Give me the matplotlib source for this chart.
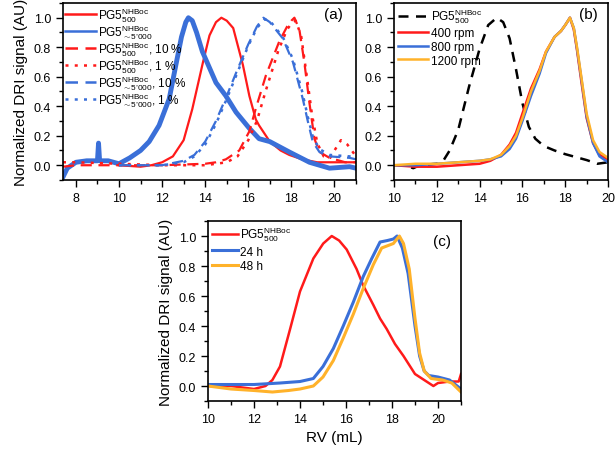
import numpy as np
import matplotlib.pyplot as plt

plt.rcParams['font.family'] = ['Liberation Sans', 'DejaVu Sans']
plt.rcParams['mathtext.fontset'] = 'custom'
plt.rcParams['mathtext.rm'] = 'Liberation Sans'
plt.rcParams['mathtext.it'] = 'Liberation Sans:italic'
plt.rcParams['mathtext.bf'] = 'Liberation Sans:bold'

RED = '#ff1a1a'
BLUE = '#3a6fd8'
ORANGE = '#ffb22a'

# ---- panel (a): concentration series ----
a_red_x = [10.0, 11.0, 11.5, 12.0, 12.5, 13.0, 13.4, 13.9, 14.2, 14.5, 14.75, 15.0, 15.3, 15.75, 16.05, 16.35, 16.5, 17.0, 17.5, 17.9, 18.5, 19.2, 20.0, 21.0]
a_red_y = [0.0, -0.01, 0.0, 0.02, 0.06, 0.17, 0.38, 0.70, 0.88, 0.97, 1.0, 0.98, 0.93, 0.68, 0.47, 0.31, 0.27, 0.16, 0.10, 0.07, 0.04, 0.02, 0.02, 0.02]

a_blue_x = [7.4, 7.6, 8.0, 8.5, 9.0, 9.05, 9.1, 9.5, 10.0, 10.5, 11.0, 11.4, 11.86, 12.33, 12.64, 12.9, 13.1, 13.22, 13.4, 13.6, 13.87, 14.5, 14.96, 15.43, 16.05, 16.5, 17.0, 17.9, 18.84, 19.77, 20.7, 21.0]
a_blue_y = [-0.08, -0.02, 0.02, 0.03, 0.03, 0.15, 0.03, 0.03, 0.01, 0.05, 0.10, 0.16, 0.27, 0.45, 0.68, 0.87, 0.97, 1.0, 0.98, 0.9, 0.77, 0.56, 0.47, 0.36, 0.25, 0.18, 0.16, 0.09, 0.02, -0.02, -0.01, -0.02]

a_red10_x = [7.4, 8.0, 10.0, 12.0, 14.0, 14.5, 14.96, 15.58, 16.05, 16.36, 16.82, 17.44, 17.8, 18.0, 18.14, 18.37, 18.6, 18.84, 19.07, 19.3, 19.77, 20.5, 21.0]
a_red10_y = [-0.01, 0.0, 0.0, 0.0, 0.01, 0.02, 0.04, 0.10, 0.23, 0.39, 0.61, 0.84, 0.94, 0.98, 1.0, 0.92, 0.70, 0.42, 0.18, 0.09, 0.05, 0.02, 0.02]

a_red1_x = [7.4, 8.0, 10.0, 12.0, 13.0, 14.0, 15.0, 15.5, 16.0, 16.4, 16.8, 17.4, 17.8, 18.05, 18.2, 18.45, 18.7, 18.95, 19.2, 19.5, 19.8, 20.0, 20.3, 20.6, 21.0]
a_red1_y = [0.02, 0.02, 0.01, 0.0, 0.0, 0.0, 0.02, 0.06, 0.17, 0.30, 0.50, 0.78, 0.92, 0.97, 0.98, 0.88, 0.62, 0.35, 0.15, 0.06, 0.05, 0.1, 0.17, 0.14, 0.06]

a_blue10_x = [10.0, 12.0, 13.0, 13.5, 14.0, 14.5, 15.0, 15.5, 16.0, 16.4, 16.7, 17.0, 17.6, 18.07, 18.53, 18.76, 18.99, 19.3, 19.77, 20.7, 21.0]
a_blue10_y = [0.0, 0.0, 0.03, 0.07, 0.16, 0.30, 0.47, 0.65, 0.82, 0.94, 1.0, 0.97, 0.86, 0.70, 0.45, 0.30, 0.16, 0.09, 0.06, 0.05, 0.04]

a_blue1_x = [10.0, 12.0, 13.0, 13.5, 14.0, 14.5, 15.0, 15.5, 16.0, 16.4, 16.75, 17.0, 17.6, 18.07, 18.5, 18.76, 19.0, 19.3, 19.77, 20.7, 21.0]
a_blue1_y = [0.0, 0.0, 0.02, 0.06, 0.14, 0.28, 0.45, 0.63, 0.81, 0.93, 0.99, 0.98, 0.87, 0.72, 0.50, 0.33, 0.19, 0.11, 0.07, 0.06, 0.05]

# ---- panel (b): stirring speed ----
b_ref_x = [10.0, 10.5, 10.9, 11.2, 12.0, 12.3, 12.6, 13.0, 13.5, 14.0, 14.4, 14.8, 15.1, 15.4, 15.7, 16.0, 16.3, 16.6, 17.0, 17.5, 18.0, 18.5, 19.0, 19.5, 20.0]
b_ref_y = [0.0, 0.0, -0.02, 0.0, 0.01, 0.03, 0.10, 0.24, 0.53, 0.79, 0.95, 1.0, 0.97, 0.86, 0.65, 0.42, 0.26, 0.18, 0.13, 0.10, 0.075, 0.055, 0.035, 0.01, 0.02]

b_rpm_x = [10.0, 11.0, 12.0, 13.0, 14.0, 14.5, 15.0, 15.4, 15.7, 16.0, 16.4, 16.8, 17.1, 17.5, 17.8, 18.0, 18.22, 18.4, 18.55, 18.77, 19.0, 19.3, 19.6, 20.0]
b_400_y = [0.0, -0.01, -0.01, 0.0, 0.01, 0.03, 0.07, 0.14, 0.22, 0.35, 0.52, 0.65, 0.77, 0.87, 0.91, 0.95, 1.0, 0.92, 0.78, 0.55, 0.32, 0.15, 0.07, 0.04]
b_800_y = [0.0, 0.0, 0.01, 0.02, 0.03, 0.04, 0.06, 0.11, 0.18, 0.30, 0.47, 0.62, 0.76, 0.87, 0.91, 0.95, 1.0, 0.93, 0.79, 0.57, 0.33, 0.15, 0.06, 0.02]
b_1200_y = [0.0, 0.01, 0.01, 0.02, 0.03, 0.04, 0.07, 0.13, 0.20, 0.32, 0.50, 0.64, 0.77, 0.87, 0.91, 0.95, 1.0, 0.93, 0.80, 0.58, 0.35, 0.17, 0.09, 0.05]

# ---- panel (c): reaction time ----
c_ref_x = [10.0, 11.0, 12.0, 12.5, 12.8, 13.13, 13.57, 14.0, 14.58, 15.01, 15.38, 15.7, 16.03, 16.46, 16.75, 17.19, 17.48, 17.77, 18.13, 18.5, 19.0, 19.5, 19.8, 20.0, 20.5, 20.9, 21.0]
c_ref_y = [0.0, 0.0, -0.02, 0.0, 0.04, 0.13, 0.38, 0.63, 0.85, 0.95, 1.0, 0.97, 0.91, 0.78, 0.67, 0.54, 0.45, 0.38, 0.28, 0.20, 0.08, 0.03, 0.0, 0.02, 0.03, 0.03, 0.08]

c_24_x = [10.0, 12.0, 13.13, 14.0, 14.58, 15.0, 15.45, 15.88, 16.32, 16.75, 17.12, 17.48, 17.8, 18.06, 18.22, 18.45, 18.7, 19.0, 19.2, 19.4, 19.6, 20.0, 20.5, 21.0]
c_24_y = [0.01, 0.01, 0.02, 0.03, 0.05, 0.13, 0.25, 0.40, 0.56, 0.73, 0.85, 0.96, 0.97, 0.98, 1.0, 0.92, 0.75, 0.40, 0.2, 0.1, 0.07, 0.06, 0.04, -0.02]

c_48_x = [10.0, 11.0, 12.0, 12.8, 13.5, 14.0, 14.58, 15.0, 15.45, 15.88, 16.32, 16.75, 17.19, 17.55, 18.06, 18.32, 18.5, 18.75, 19.0, 19.2, 19.4, 19.7, 20.2, 20.6, 21.0]
c_48_y = [0.0, -0.02, -0.03, -0.04, -0.03, -0.02, 0.0, 0.06, 0.17, 0.32, 0.48, 0.65, 0.81, 0.92, 0.95, 1.0, 0.95, 0.78, 0.45, 0.22, 0.1, 0.05, 0.04, 0.02, -0.04]

lab500 = r'PG5$^{\mathrm{NHBoc}}_{\mathrm{500}}$'
lab5k = 'PG5$^{\\mathrm{NHBoc}}_{\\sim\\mathrm{5\u2019000}}$'

fig = plt.figure(figsize=(6.15, 4.52), dpi=100)
axa = fig.add_axes([0.1024, 0.5996, 0.4765, 0.3916])
axb = fig.add_axes([0.6407, 0.5996, 0.3480, 0.3916])
axc = fig.add_axes([0.3382, 0.1106, 0.4114, 0.3982])


def style(ax, xlim, xmaj):
    ax.set_xlim(*xlim)
    ax.set_ylim(-0.1, 1.1)
    ax.set_xticks(np.arange(np.ceil(xlim[0] / xmaj) * xmaj, xlim[1] + 0.01, xmaj))
    ax.set_xticks(np.arange(np.ceil(xlim[0]), xlim[1] + 0.01, 1), minor=True)
    ax.set_yticks([0.0, 0.2, 0.4, 0.6, 0.8, 1.0])
    ax.set_yticks(np.arange(-0.1, 1.101, 0.1), minor=True)
    ax.yaxis.set_major_formatter(plt.FormatStrFormatter('%.1f'))
    ax.tick_params(which='major', direction='out', length=5, width=1, labelsize=9)
    ax.tick_params(which='minor', direction='out', length=3, width=1)
    for s in ax.spines.values():
        s.set_linewidth(1.2)


# (a)
axa.plot(a_red_x, a_red_y, color=RED, lw=1.6, label=lab500)
axa.plot(a_blue_x, a_blue_y, color=BLUE, lw=3.5, label=lab5k)
axa.plot(a_red10_x, a_red10_y, color=RED, lw=1.6, ls=(0, (5, 3)), label=lab500 + ', 10 %')
axa.plot(a_red1_x, a_red1_y, color=RED, lw=1.8, ls=(0, (1.2, 2.5)), label=lab500 + ', 1 %')
axa.plot(a_blue10_x, a_blue10_y, color=BLUE, lw=1.6, ls=(0, (5, 3)), label=lab5k + ', 10 %')
axa.plot(a_blue1_x, a_blue1_y, color=BLUE, lw=1.8, ls=(0, (1.2, 2.5)), label=lab5k + ', 1 %')
style(axa, (7.4, 21), 2)
axa.set_ylabel('Normalized DRI signal (AU)', fontsize=11)
leg = axa.legend(loc='upper left', frameon=False, fontsize=8.5, handlelength=2.6,
                 handletextpad=0.2, labelspacing=-0.15, borderaxespad=0.1, borderpad=0.1)
for h in leg.legend_handles:
    h.set_linewidth(1.8)
axa.text(0.956, 0.975, '(a)', transform=axa.transAxes, ha='right', va='top', fontsize=11)

# (b)
axb.plot(b_ref_x, b_ref_y, color='black', lw=1.8, ls=(0, (4, 3)), label=lab500)
axb.plot(b_rpm_x, b_400_y, color=RED, lw=1.8, label='400 rpm')
axb.plot(b_rpm_x, b_800_y, color=BLUE, lw=1.8, label='800 rpm')
axb.plot(b_rpm_x, b_1200_y, color=ORANGE, lw=1.8, label='1200 rpm')
style(axb, (10, 20), 2)
axb.legend(loc='upper left', frameon=False, fontsize=8.5, handlelength=2.6,
           handletextpad=0.2, labelspacing=0.15, borderaxespad=0.1, borderpad=0.2)
axb.text(0.95, 0.975, '(b)', transform=axb.transAxes, ha='right', va='top', fontsize=11)

# (c)
axc.plot(c_ref_x, c_ref_y, color=RED, lw=1.8, label=lab500)
axc.plot(c_24_x, c_24_y, color=BLUE, lw=2.2, label='24 h')
axc.plot(c_48_x, c_48_y, color=ORANGE, lw=2.2, label='48 h')
style(axc, (10, 21), 2)
axc.set_ylabel('Normalized DRI signal (AU)', fontsize=11)
axc.set_xlabel('RV (mL)', fontsize=11)
axc.legend(loc='upper left', frameon=False, fontsize=8.5, handlelength=2.2,
           handletextpad=0.2, labelspacing=0.2, borderaxespad=0.1, borderpad=0.2)
axc.text(0.96, 0.93, '(c)', transform=axc.transAxes, ha='right', va='top', fontsize=11)

fig.savefig('out.png', dpi=100)
